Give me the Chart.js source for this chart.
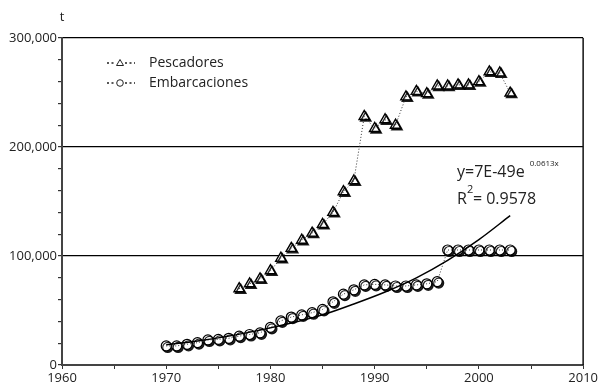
<!DOCTYPE html>
<html>
<head>
<meta charset="utf-8">
<script src="https://cdn.jsdelivr.net/npm/chart.js@4/dist/chart.umd.min.js"></script>
<style>
  html, body { margin: 0; padding: 0; background: #fff; }
  #wrap { width: 599px; height: 388px; }
</style>
</head>
<body>
<div id="wrap"><canvas id="chart" width="599" height="388"></canvas></div>
<script>
// ---- data ----
const pescYears = [1977, 1978, 1979, 1980, 1981, 1982, 1983, 1984, 1985, 1986, 1987, 1988, 1989,
  1990, 1991, 1992, 1993, 1994, 1995, 1996, 1997, 1998, 1999, 2000, 2001, 2002, 2003];
const pescValues = [70000, 74500, 79000, 86500, 98000, 107000, 114500, 121000, 129000, 140000, 159000, 169000, 228000,
  217000, 225000, 220000, 246000, 251000, 249000, 256000, 256000, 257000, 257000, 260000, 269000, 268000, 249500];

const embYears = [1970, 1971, 1972, 1973, 1974, 1975, 1976, 1977, 1978, 1979, 1980, 1981, 1982, 1983, 1984, 1985, 1986,
  1987, 1988, 1989, 1990, 1991, 1992, 1993, 1994, 1995, 1996, 1997, 1998, 1999, 2000, 2001, 2002, 2003];
const embValues = [17500, 17500, 19000, 20500, 23000, 23500, 24500, 26500, 28000, 29500, 34500, 40500, 44000, 46000, 48000, 51000, 58000,
  65000, 69000, 73500, 74000, 73500, 72500, 72500, 73500, 74500, 76500, 105500, 105500, 105500, 105500, 105500, 105500, 105500];

// exponential trend line, sampled from the drawn curve
const trendYears = [1970, 1973, 1976, 1979, 1982, 1985, 1988, 1991, 1994, 1997, 2000, 2003];
const trendValues = [18500, 22000, 26500, 32000, 38500, 46000, 56000, 67000, 80000, 96000, 115000, 137000];

const xTicks = [1960, 1970, 1980, 1990, 2000, 2010];
const seriesNames = ['Pescadores', 'Embarcaciones'];
const trendEquation = 'y=7E-49e';
const trendExponent = '0.0613x';
const trendR2 = '= 0.9578';

const FONT = "'Open Sans', 'DejaVu Sans', sans-serif";
const pts = (xs, ys) => xs.map((x, i) => ({ x, y: ys[i] }));

// marker shadow: dark offset copy under the white markers
const shadowPlugin = {
  id: 'markerShadow',
  beforeDatasetDraw(chart, args) {
    const ds = chart.data.datasets[args.index];
    if (!ds.shadow) return;
    const ctx = chart.ctx;
    ctx.save();
    ctx.shadowColor = 'rgba(0,0,0,0.85)';
    ctx.shadowOffsetX = 1.5;
    ctx.shadowOffsetY = 1.5;
    ctx.shadowBlur = 0.5;
  },
  afterDatasetDraw(chart, args) {
    const ds = chart.data.datasets[args.index];
    if (!ds.shadow) return;
    chart.ctx.restore();
  }
};

// right border, axis unit, legend and trend equation
const decorPlugin = {
  id: 'decor',
  afterDraw(chart) {
    const { ctx, chartArea: a } = chart;
    ctx.save();

    // right frame line
    ctx.strokeStyle = '#111';
    ctx.lineWidth = 1.5;
    ctx.beginPath();
    ctx.moveTo(a.right, a.top);
    ctx.lineTo(a.right, a.bottom);
    ctx.stroke();

    // unit label above y axis
    ctx.fillStyle = '#222';
    ctx.font = `13px ${FONT}`;
    ctx.textAlign = 'center';
    ctx.textBaseline = 'middle';
    ctx.fillText('t', a.left, 17);

    // legend: "- - marker - -" then the name
    const lx = a.left + 45;
    const rows = [a.top + 25, a.top + 45];
    seriesNames.forEach((name, i) => {
      const y = rows[i];
      const mx = lx + 13;
      ctx.lineWidth = 1.3;
      ctx.strokeStyle = '#222';
      ctx.setLineDash([2, 2.5]);
      ctx.beginPath();
      ctx.moveTo(lx, y);
      ctx.lineTo(mx - 5, y);
      ctx.moveTo(mx + 5, y);
      ctx.lineTo(mx + 15, y);
      ctx.stroke();
      ctx.setLineDash([]);
      ctx.lineWidth = 1;
      ctx.beginPath();
      if (i === 0) {
        ctx.moveTo(mx, y - 3.5);
        ctx.lineTo(mx + 3.5, y + 2.5);
        ctx.lineTo(mx - 3.5, y + 2.5);
        ctx.closePath();
      } else {
        ctx.arc(mx, y, 3.3, 0, Math.PI * 2);
      }
      ctx.stroke();
      ctx.fillStyle = '#222';
      ctx.font = `14px ${FONT}`;
      ctx.textAlign = 'left';
      ctx.fillText(name, lx + 42, y);
    });

    // trend equation
    const tx = 457;
    ctx.font = `16px ${FONT}`;
    ctx.textAlign = 'left';
    ctx.fillText(trendEquation, tx, 172);
    const w1 = ctx.measureText(trendEquation).width;
    ctx.font = `8px ${FONT}`;
    ctx.fillText(trendExponent, tx + w1 + 5, 164);
    ctx.font = `16px ${FONT}`;
    ctx.fillText('R', tx, 199);
    const wr = ctx.measureText('R').width;
    ctx.font = `11px ${FONT}`;
    ctx.fillText('2', tx + wr, 190);
    ctx.font = `16px ${FONT}`;
    ctx.fillText(trendR2, tx + wr + 6, 199);

    ctx.restore();
  }
};

new Chart(document.getElementById('chart'), {
  type: 'line',
  data: {
    datasets: [
      {
        label: 'trend',
        data: pts(trendYears, trendValues),
        borderColor: '#000',
        borderWidth: 1.5,
        pointRadius: 0,
        cubicInterpolationMode: 'monotone',
        fill: false,
      },
      {
        label: seriesNames[0] + ' line',
        data: pts(pescYears, pescValues),
        borderColor: '#333',
        borderWidth: 1,
        borderDash: [1, 2],
        pointRadius: 0,
        fill: false,
      },
      {
        label: seriesNames[1] + ' line',
        data: pts(embYears, embValues),
        borderColor: '#333',
        borderWidth: 1,
        borderDash: [1, 2],
        pointRadius: 0,
        fill: false,
      },
      {
        label: seriesNames[0],
        data: pts(pescYears, pescValues),
        showLine: false,
        shadow: true,
        pointStyle: 'triangle',
        pointRadius: 6,
        pointBackgroundColor: '#fff',
        pointBorderColor: '#000',
        pointBorderWidth: 1.4,
      },
      {
        label: seriesNames[1],
        data: pts(embYears, embValues),
        showLine: false,
        shadow: true,
        pointStyle: 'circle',
        pointRadius: 5,
        pointBackgroundColor: '#fff',
        pointBorderColor: '#000',
        pointBorderWidth: 1.2,
      },
    ]
  },
  options: {
    responsive: false,
    animation: false,
    layout: { padding: { top: 38, right: 9, left: 2, bottom: 2 } },
    plugins: { legend: { display: false }, tooltip: { enabled: false } },
    scales: {
      x: {
        type: 'linear',
        min: xTicks[0],
        max: xTicks[xTicks.length - 1],
        afterFit: s => { s.height = 21; },
        ticks: {
          stepSize: 5,
          autoSkip: false,
          maxRotation: 0,
          padding: 1,
          color: '#222',
          font: { family: FONT, size: 13 },
          callback: v => (xTicks.includes(v) ? String(v) : ''),
        },
        grid: { drawOnChartArea: false, tickLength: 4, tickColor: '#333', tickWidth: 1 },
        border: { color: '#444', width: 2 },
      },
      y: {
        min: 0,
        max: 300000,
        afterFit: s => { s.width = 60; },
        ticks: {
          stepSize: 20000,
          autoSkip: false,
          padding: 1,
          color: '#222',
          font: { family: FONT, size: 13 },
          callback: v => (v % 100000 === 0 ? v.toLocaleString('en-US') : ''),
        },
        grid: {
          color: c => (c.tick && c.tick.value % 100000 === 0 ? '#000' : 'rgba(0,0,0,0)'),
          lineWidth: 1.2,
          tickLength: 4,
          tickColor: '#333',
        },
        border: { color: '#444', width: 2 },
      }
    }
  },
  plugins: [shadowPlugin, decorPlugin]
});
</script>
</body>
</html>
